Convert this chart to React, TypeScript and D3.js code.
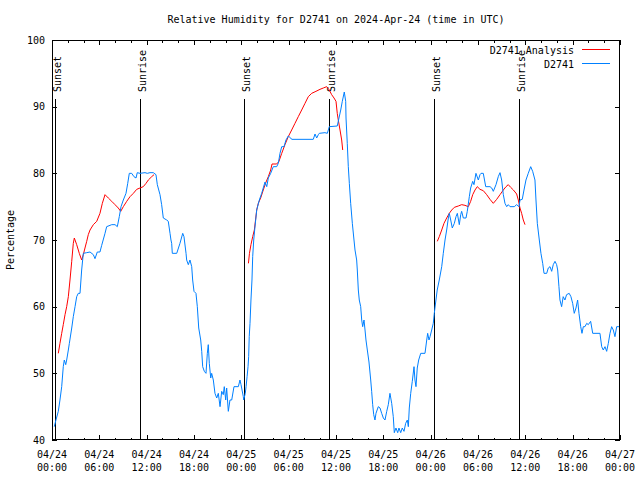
import React from "react";
import * as d3 from "d3";

// ---- data (hours since 2024-04-24 00:00 UTC) ----
const obsHours = [0.29,0.5,0.8,1.01,1.23,1.43,1.56,1.74,1.86,2.07,2.2,2.5,2.7,2.92,3.13,3.33,3.55,3.76,3.97,4.4,4.82,5.24,5.45,5.74,6.08,6.3,6.72,6.93,7.57,7.99,8.28,8.53,8.75,9.04,9.38,9.6,9.8,10.1,10.39,10.65,10.81,11.15,11.79,12.08,12.42,12.84,13.18,13.35,13.69,13.9,14.11,14.54,14.74,14.96,15.08,15.17,15.25,15.81,16.22,16.57,16.73,16.99,17.07,17.28,17.49,17.71,17.83,18.0,18.25,18.42,18.6,18.85,18.98,19.1,19.31,19.52,19.69,19.81,19.94,20.12,20.24,20.45,20.66,20.88,21.08,21.3,21.51,21.71,21.84,22.02,22.14,22.35,22.56,22.78,23.07,23.62,23.83,23.96,24.09,24.25,24.3,24.5,24.6,24.73,24.85,24.93,25.0,25.1,25.22,25.35,25.44,25.57,25.69,25.95,26.28,26.58,27.0,27.22,27.42,27.72,28.05,28.48,28.69,28.9,29.12,29.41,29.66,29.95,30.26,30.38,33.12,33.34,33.55,33.76,33.88,34.6,34.9,35.15,36.16,36.38,36.6,36.8,37.05,37.23,37.27,37.43,37.56,37.69,37.86,38.07,38.28,38.41,38.62,38.7,38.83,38.95,39.13,39.26,39.38,39.55,39.68,39.8,39.97,40.18,40.4,40.52,40.65,40.78,40.94,41.07,41.36,41.58,41.79,42.0,42.21,42.43,42.63,42.84,43.06,43.26,43.39,43.6,43.82,43.98,44.2,44.4,44.62,44.83,45.04,45.17,45.29,45.47,45.67,45.89,46.01,46.14,46.3,46.48,46.74,47.28,47.5,47.62,47.79,47.92,48.13,48.33,48.46,48.67,48.83,49.09,49.4,49.6,49.82,50.03,50.24,50.36,50.54,50.74,51.0,51.21,51.38,51.63,51.81,51.93,52.14,52.48,52.64,52.9,53.07,53.33,53.49,53.74,54.04,54.25,54.38,54.67,54.98,55.52,55.74,55.94,56.28,56.57,56.79,57.0,57.21,57.42,57.64,57.84,58.06,58.6,58.9,59.2,59.32,59.61,59.83,60.08,60.37,60.68,60.93,61.22,61.35,61.52,61.77,61.98,62.2,62.37,62.71,62.91,63.13,63.34,63.54,63.76,63.97,64.1,64.26,64.39,64.6,64.8,65.02,65.23,65.56,65.78,66.0,66.2,66.42,66.63,66.8,67.02,67.18,67.35,67.56,67.78,67.98,68.28,68.54,69.46,69.68,69.88,70.1,70.31,70.52,70.73,70.94,71.15,71.36,71.58,71.87];
const obsRH = [42,43,44.3,46,48,51,52,51.3,52,53.5,54.5,56.8,58.5,60,61.5,62,62,65.5,68,68.1,68.2,67.8,67.2,68.2,68.2,69.2,71,72,72.3,72.3,72,73.5,75,76,77,78.5,80,80,79.5,79.3,80.1,80,80.1,80,80.1,80.1,79.8,78.3,76.8,75.3,73.3,73,72.8,71,70,69.5,68,68,69.5,71,70.5,68,67,66.3,67,66,64,62.3,62,60,56.8,55,53.3,51,50.3,50,53,54.3,51.5,49.3,50,49,47,46.3,47,45,47.3,46.8,48,46,47.8,44.3,46,46,48,48,49,48.3,47.5,46.5,46,47,48,49.5,51,52.5,55.5,57.5,61,64,67.5,70,71.5,74.5,76,77,78.7,78,79.3,80,81,81,81.5,83,84,84,85,85.6,85.3,85.1,85.1,85.9,85.3,85.8,86,86.1,86,87,87.1,88.3,89.5,90.8,92.2,90.8,88.3,84.5,81,78.5,75.5,72.5,70,68.5,67,65.5,62.5,61,60,58,57,58,56.5,55,53.5,51.7,49,47.3,45.3,43.8,43,44,45,44.8,44,43.3,43,44.3,45.3,47,45.5,43.5,41.1,41.8,41.1,41.8,41.1,41.8,41.3,42.5,43,42,44.8,47,48.8,51,49,48,50.8,52,53,53,55,56,55,55.5,56.5,57.5,59,61,62.5,64,66,68,70,71.5,73.3,74,73,71.8,72.5,73.5,74,72.3,73.8,74.3,73.3,73.3,74.3,76.5,77.8,78.8,78.3,80,79,79.8,80,80,78,78,77.8,77.3,78.3,79.5,80.1,79,76.8,75.5,75,75.3,75,75,75.3,75,76,76.1,77.5,79,80,81,80.3,79,76,72.5,70,68,66.5,65,65,65.8,66,65.3,66.3,66.8,66.3,65.5,63,61,60,61.5,61,61.8,62,61.5,60.5,59,59.8,61,59,57,56,57,57,57.5,57.3,57.8,56,56,54,53.5,54,53.3,54.5,56,57,56.5,55.5,57,57];

// Analysis: null marks a gap between daily segments
const anaHours = [0.8,1.01,1.23,1.43,1.65,1.86,2.07,2.28,2.5,2.7,2.83,3.13,3.46,3.76,3.97,4.18,4.4,4.6,4.82,5.24,5.67,6.08,6.38,6.72,7.14,7.57,7.99,8.4,8.71,9.04,9.47,9.89,10.31,10.74,11.15,11.57,11.92,12.21,12.64,12.93,18,
  24.9,25.03,25.22,25.44,25.65,25.8,25.95,26.15,26.45,26.78,27.13,27.42,27.72,27.89,28.48,28.77,29.12,29.53,29.95,30.38,30.8,31.22,31.65,32.07,32.49,32.92,33.46,33.97,34.39,34.82,35.15,35.45,35.75,36.0,36.16,36.29,36.51,36.72,36.85,42,
  48.84,49.09,49.4,49.69,50.03,50.36,50.67,51.0,51.5,51.93,52.35,52.77,53.07,53.33,53.62,53.91,54.25,54.67,55.1,55.52,55.94,56.37,56.79,57.21,57.55,57.84,58.14,58.49,58.9,59.11,59.32,59.53,59.74,59.96];
const anaRH = [53,54.5,56,57.3,58.8,60,61.5,64,66.8,69.5,70.3,69.3,68,67,67.8,68.8,69.8,70.8,71.5,72.3,72.8,74,75.5,76.8,76.3,75.8,75.3,74.8,74.3,75,75.8,76.5,77,77.6,77.8,78,78.5,79,79.5,79.8,null,
  66.5,68,69.3,70.5,71.5,73,74.5,75.5,76.3,77.5,78.7,79.5,80.5,81.4,81.4,81.8,83,84.3,85.5,86.5,87.5,88.5,89.5,90.5,91.5,92,92.3,92.6,92.8,93,92.5,91.8,91.3,90.8,89,88,86.5,85,83.5,null,
  69.8,70.5,71.5,72.5,73.3,74,74.5,74.9,75.1,75.3,75.2,75,75.8,76.8,77.5,78,77.6,77.4,76.8,76.1,75.5,76.1,76.8,77.5,78,78.3,77.9,77.5,76.9,76,74.8,74,73,72.3];

const sunLabels = ["Sunset", "Sunrise", "Sunset", "Sunrise", "Sunset", "Sunrise"];
const sunHours = [0.38, 11.15, 24.34, 35.15, 48.46, 59.24];

const yTicks = [40, 50, 60, 70, 80, 90, 100];
const seriesNames = ["D2741 Analysis", "D2741"];
const seriesColors = ["#ff0000", "#0080ff"];

const title = "Relative Humidity for D2741 on 2024-Apr-24 (time in UTC)";
const yTitle = "Percentage";

const t0 = Date.UTC(2024, 3, 24);
const toDate = (h: number) => new Date(t0 + h * 3600 * 1000);

export default function App() {
  const W = 640, H = 480;
  const L = 52, R = 620, T = 40, B = 440;
  const font = "'DejaVu Sans Mono', 'Liberation Mono', monospace";
  const fs = 10;

  const x = d3.scaleUtc().domain([new Date(t0), new Date(Date.UTC(2024, 3, 27))]).range([L, R]);
  const y = d3.scaleLinear().domain([40, 100]).range([B, T]);

  const majorX = x.ticks(d3.utcHour.every(6) as any);
  const minorX = x.ticks(d3.utcHour.every(2) as any);
  const fmtDate = d3.utcFormat("%m/%d");
  const fmtTime = d3.utcFormat("%H:%M");

  const obs = obsHours.map((h, i) => ({ d: toDate(h), v: obsRH[i] as number | null }));
  const ana = anaHours.map((h, i) => ({ d: toDate(h), v: anaRH[i] as number | null }));

  const line = d3
    .line<{ d: Date; v: number | null }>()
    .defined((p) => p.v !== null)
    .x((p) => x(p.d))
    .y((p) => y(p.v as number));

  const px = (v: number) => Math.round(v) + 0.5;

  return (
    <svg width={W} height={H} style={{ position: "absolute", left: 0, top: 0, background: "#fff" }}>
      <rect x={0} y={0} width={W} height={H} fill="#fff" />
      <text x={(L + R) / 2} y={23} textAnchor="middle" fontFamily={font} fontSize={fs} fill="#000">
        {title}
      </text>

      {/* y ticks and labels */}
      {yTicks.map((t) => (
        <g key={"y" + t}>
          <line x1={L} x2={L + 5} y1={px(y(t))} y2={px(y(t))} stroke="#000" shapeRendering="crispEdges" />
          <line x1={R - 5} x2={R} y1={px(y(t))} y2={px(y(t))} stroke="#000" shapeRendering="crispEdges" />
          <text x={45} y={y(t) + 3.5} textAnchor="end" fontFamily={font} fontSize={fs} fill="#000">
            {t}
          </text>
        </g>
      ))}

      {/* x ticks */}
      {minorX.map((d, i) => (
        <g key={"mx" + i}>
          <line x1={px(x(d))} x2={px(x(d))} y1={B} y2={B - 2.5} stroke="#000" shapeRendering="crispEdges" />
          <line x1={px(x(d))} x2={px(x(d))} y1={T} y2={T + 2.5} stroke="#000" shapeRendering="crispEdges" />
        </g>
      ))}
      {majorX.map((d, i) => (
        <g key={"x" + i}>
          <line x1={px(x(d))} x2={px(x(d))} y1={B} y2={B - 5} stroke="#000" shapeRendering="crispEdges" />
          <line x1={px(x(d))} x2={px(x(d))} y1={T} y2={T + 5} stroke="#000" shapeRendering="crispEdges" />
          <text x={x(d)} y={458} textAnchor="middle" fontFamily={font} fontSize={fs} fill="#000">
            {fmtDate(d)}
          </text>
          <text x={x(d)} y={471} textAnchor="middle" fontFamily={font} fontSize={fs} fill="#000">
            {fmtTime(d)}
          </text>
        </g>
      ))}

      {/* y axis title */}
      <text
        transform={`translate(14, ${(T + B) / 2}) rotate(-90)`}
        textAnchor="middle"
        fontFamily={font}
        fontSize={fs}
        fill="#000"
      >
        {yTitle}
      </text>

      {/* sunrise / sunset markers */}
      {sunHours.map((h, i) => {
        const xx = px(x(toDate(h)));
        return (
          <g key={"s" + i}>
            <line x1={xx} x2={xx} y1={B} y2={99} stroke="#000" shapeRendering="crispEdges" />
            <text
              transform={`translate(${xx + 5}, 92) rotate(-90)`}
              textAnchor="start"
              fontFamily={font}
              fontSize={fs}
              fill="#000"
            >
              {sunLabels[i]}
            </text>
          </g>
        );
      })}

      {/* series */}
      <path d={line(ana) || ""} fill="none" stroke={seriesColors[0]} strokeWidth={1} />
      <path d={line(obs) || ""} fill="none" stroke={seriesColors[1]} strokeWidth={1} />

      {/* legend */}
      {seriesNames.map((n, i) => (
        <g key={"lg" + i}>
          <text x={574} y={54 + i * 14} textAnchor="end" fontFamily={font} fontSize={fs} fill="#000">
            {n}
          </text>
          <line x1={582} x2={610} y1={49.5 + i * 14} y2={49.5 + i * 14} stroke={seriesColors[i]} strokeWidth={1} />
        </g>
      ))}

      {/* border */}
      <rect x={L + 0.5} y={T + 0.5} width={R - L - 1} height={B - T - 1} fill="none" stroke="#000" shapeRendering="crispEdges" />
    </svg>
  );
}
